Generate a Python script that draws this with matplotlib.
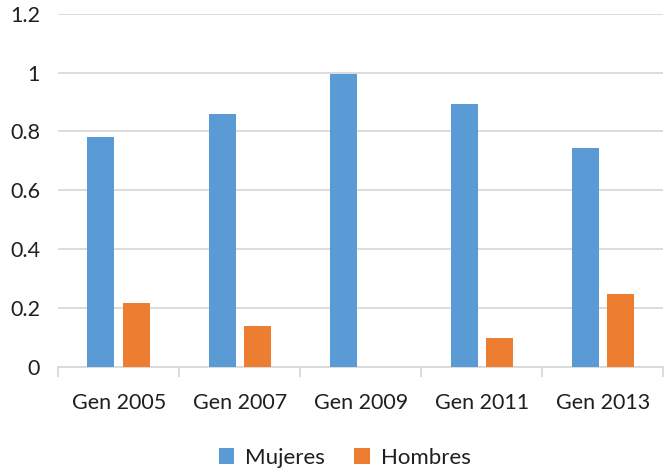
import numpy as np
import matplotlib
matplotlib.use("Agg")
import matplotlib.pyplot as plt

# datos
generaciones = ["Gen 2005", "Gen 2007", "Gen 2009", "Gen 2011", "Gen 2013"]
mujeres = [0.78, 0.858, 0.995, 0.894, 0.745]
hombres = [0.217, 0.139, 0.0, 0.096, 0.246]
y_ticks = [0, 0.2, 0.4, 0.6, 0.8, 1, 1.2]
y_tick_labels = ["0", "0.2", "0.4", "0.6", "0.8", "1", "1.2"]

plt.rcParams['font.family'] = ['Lato', 'DejaVu Sans']

fig = plt.figure(figsize=(6.68, 4.72), dpi=100)
ax = fig.add_axes([0.087, 0.223, 0.906, 0.748])

x = np.arange(len(generaciones))
width = 0.223
offset = 0.146
ax.bar(x - offset, mujeres, width, color="#5B9BD5", label="Mujeres", zorder=3)
ax.bar(x + offset, hombres, width, color="#ED7D31", label="Hombres", zorder=3)

ax.set_ylim(0, 1.2)
ax.set_xlim(-0.5, len(generaciones) - 0.5)
ax.set_yticks(y_ticks)
ax.set_yticklabels(y_tick_labels)
ax.yaxis.grid(True, color="#D9D9D9", linewidth=1.3, zorder=0)

# ticks del eje x en los bordes de categoria, etiquetas al centro
ax.set_xticks(np.arange(len(generaciones) + 1) - 0.5)
ax.set_xticklabels([])
ax.set_xticks(x, minor=True)
ax.set_xticklabels(generaciones, minor=True)
ax.tick_params(axis="x", which="major", length=7, width=1.3, color="#D9D9D9")
ax.tick_params(axis="x", which="minor", length=0, pad=19, labelsize=15.5, labelcolor="#1F1F1F")
ax.tick_params(axis="y", length=0, pad=13, labelsize=15.5, labelcolor="#1F1F1F")

for side in ["top", "right", "left"]:
    ax.spines[side].set_visible(False)
ax.spines["bottom"].set_color("#D9D9D9")
ax.spines["bottom"].set_linewidth(1.3)

fig.legend(loc="center", bbox_to_anchor=(0.516, 0.03), ncol=2, frameon=False,
           fontsize=16, handlelength=0.7, handleheight=0.7, handletextpad=0.5,
           columnspacing=1.3, labelcolor="#1F1F1F")

fig.savefig("out.png", dpi=100)
